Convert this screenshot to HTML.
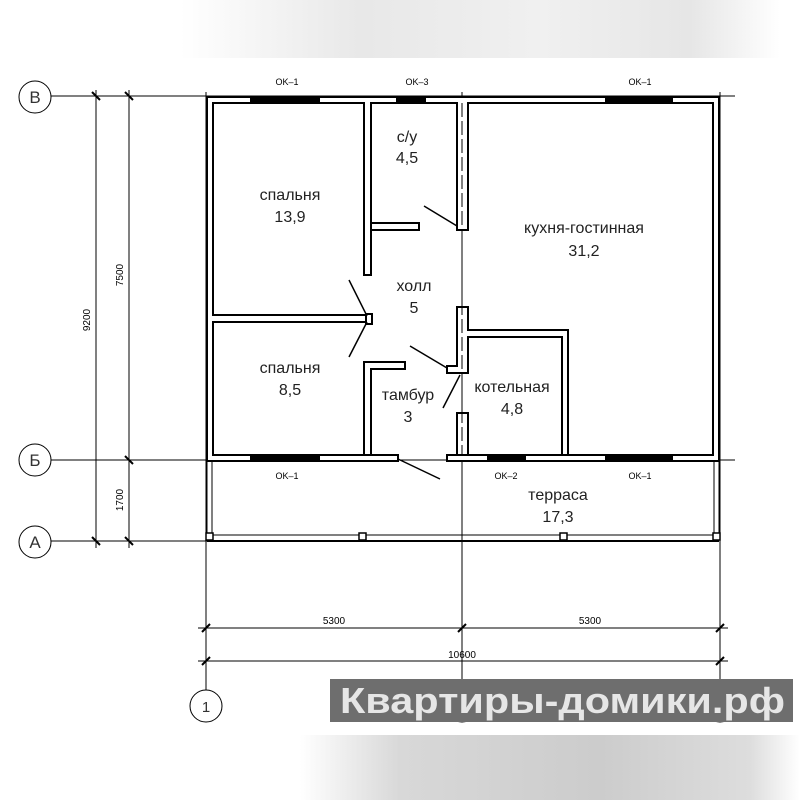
<!DOCTYPE html>
<html><head><meta charset="utf-8"><style>
body{margin:0;background:#fff;width:800px;height:800px;overflow:hidden;position:relative;font-family:"Liberation Sans",sans-serif}
</style></head><body>
<div style="position:absolute;left:180px;top:0;width:600px;height:58px;background:linear-gradient(90deg,#fff,#e8e8e8 30%,#f0f0f0 60%,#e6e6e6 85%,#fff)"></div>
<div style="position:absolute;left:300px;top:735px;width:500px;height:65px;background:linear-gradient(90deg,#fff,#d8d8d8 20%,#ccc 60%,#ddd 90%,#fff)"></div>
<svg width="800" height="800" style="position:absolute;left:0;top:0" font-family="Liberation Sans, sans-serif">
<g stroke="#000" stroke-width="1" fill="none">
<line x1="51" y1="96" x2="735" y2="96"/>
<line x1="51" y1="460" x2="735" y2="460"/>
<line x1="51" y1="541" x2="212" y2="541"/>
<line x1="206" y1="92" x2="206" y2="690"/>
<line x1="462" y1="92" x2="462" y2="690"/>
<line x1="720" y1="92" x2="720" y2="690"/>
<circle cx="35" cy="97" r="16"/><circle cx="35" cy="460" r="16"/><circle cx="35" cy="542" r="16"/>
<circle cx="206" cy="706" r="16"/><circle cx="462" cy="706" r="16"/><circle cx="720" cy="706" r="16"/>
<line x1="96" y1="90" x2="96" y2="548"/>
<line x1="129" y1="90" x2="129" y2="548"/>
<line x1="198" y1="628" x2="728" y2="628"/>
<line x1="198" y1="661" x2="728" y2="661"/>
</g>
<g stroke="#000" stroke-width="2">
<line x1="92" y1="92" x2="100" y2="100"/><line x1="92" y1="537" x2="100" y2="545"/>
<line x1="125" y1="92" x2="133" y2="100"/><line x1="125" y1="456" x2="133" y2="464"/><line x1="125" y1="537" x2="133" y2="545"/>
<line x1="202" y1="632" x2="210" y2="624"/><line x1="458" y1="632" x2="466" y2="624"/><line x1="716" y1="632" x2="724" y2="624"/>
<line x1="202" y1="665" x2="210" y2="657"/><line x1="716" y1="665" x2="724" y2="657"/>
</g>
<g font-size="17" fill="#333" text-anchor="middle">
<text x="35" y="103">В</text><text x="35" y="466">Б</text><text x="35" y="548">А</text>
<text x="206" y="712" font-size="15">1</text>
</g>
<g font-size="10" fill="#000" text-anchor="middle">
<text x="90" y="320" transform="rotate(-90 90 320)">9200</text>
<text x="123" y="275" transform="rotate(-90 123 275)">7500</text>
<text x="123" y="500" transform="rotate(-90 123 500)">1700</text>
<text x="334" y="624">5300</text><text x="590" y="624">5300</text><text x="462" y="658">10600</text>
<text x="287" y="85" font-size="9">OK–1</text><text x="417" y="85" font-size="9">OK–3</text><text x="640" y="85" font-size="9">OK–1</text>
<text x="287" y="479" font-size="9">OK–1</text><text x="506" y="479" font-size="9">OK–2</text><text x="640" y="479" font-size="9">OK–1</text>
</g>
<g stroke="#000" stroke-width="2" fill="#fff">
<path d="M207 97 H719 V461 H447 V455 H713 V103 H468 V230 H457 V103 H371 V275 H364 V103 H213 V315 H368 V322 H213 V455 H398 V461 H207 Z"/>
<path d="M371 223 H419 V230 H371 Z"/>
<path d="M364 362 H405 V369 H371 V455 H364 Z"/>
<path d="M457 307 H468 V330 H568 V455 H562 V337 H468 V373 H447 V366 H457 Z"/>
<path d="M457 413 H468 V455 H457 Z"/>
<rect x="366" y="314" width="6" height="10"/>
</g>
<g stroke="#000" stroke-width="1" fill="none">
<rect x="207" y="461" width="5" height="76"/><rect x="714" y="461" width="5" height="76"/>
<line x1="207" y1="535" x2="719" y2="535"/><line x1="207" y1="541" x2="719" y2="541" stroke-width="2"/>
<line x1="462" y1="103" x2="462" y2="455" stroke-dasharray="14 4"/>
</g>
<g fill="#fff" stroke="#000" stroke-width="1.5">
<rect x="206" y="533" width="7" height="7"/><rect x="359" y="533" width="7" height="7"/><rect x="560" y="533" width="7" height="7"/><rect x="713" y="533" width="7" height="7"/>
</g>
<g fill="#000">
<rect x="250" y="96" width="70" height="6"/><rect x="396" y="96" width="30" height="6"/><rect x="605" y="96" width="68" height="6"/>
<rect x="250" y="456" width="70" height="5"/><rect x="487" y="456" width="39" height="5"/><rect x="605" y="456" width="68" height="5"/>
</g>
<g stroke="#000" stroke-width="1.5">
<line x1="424" y1="206" x2="457" y2="226"/>
<line x1="349" y1="280" x2="367" y2="316"/>
<line x1="367" y1="322" x2="349" y2="357"/>
<line x1="410" y1="346" x2="447" y2="368"/>
<line x1="443" y1="408" x2="460" y2="375"/>
<line x1="398" y1="459" x2="440" y2="479"/>
</g>
<g font-size="16" fill="#222" text-anchor="middle">
<text x="290" y="200">спальня</text><text x="290" y="222">13,9</text>
<text x="407" y="142">с/у</text><text x="407" y="163">4,5</text>
<text x="414" y="291">холл</text><text x="414" y="313">5</text>
<text x="290" y="373">спальня</text><text x="290" y="395">8,5</text>
<text x="408" y="400">тамбур</text><text x="408" y="422">3</text>
<text x="512" y="392">котельная</text><text x="512" y="414">4,8</text>
<text x="584" y="233">кухня-гостинная</text><text x="584" y="256">31,2</text>
<text x="558" y="500">терраса</text><text x="558" y="522">17,3</text>
</g>
<rect x="330" y="679" width="463" height="43" fill="#6e6e6e"/>
<text x="340" y="713" font-size="36" font-weight="bold" fill="#e6e6e6" textLength="445" lengthAdjust="spacingAndGlyphs">Квартиры-домики.рф</text>
</svg>
</body></html>
